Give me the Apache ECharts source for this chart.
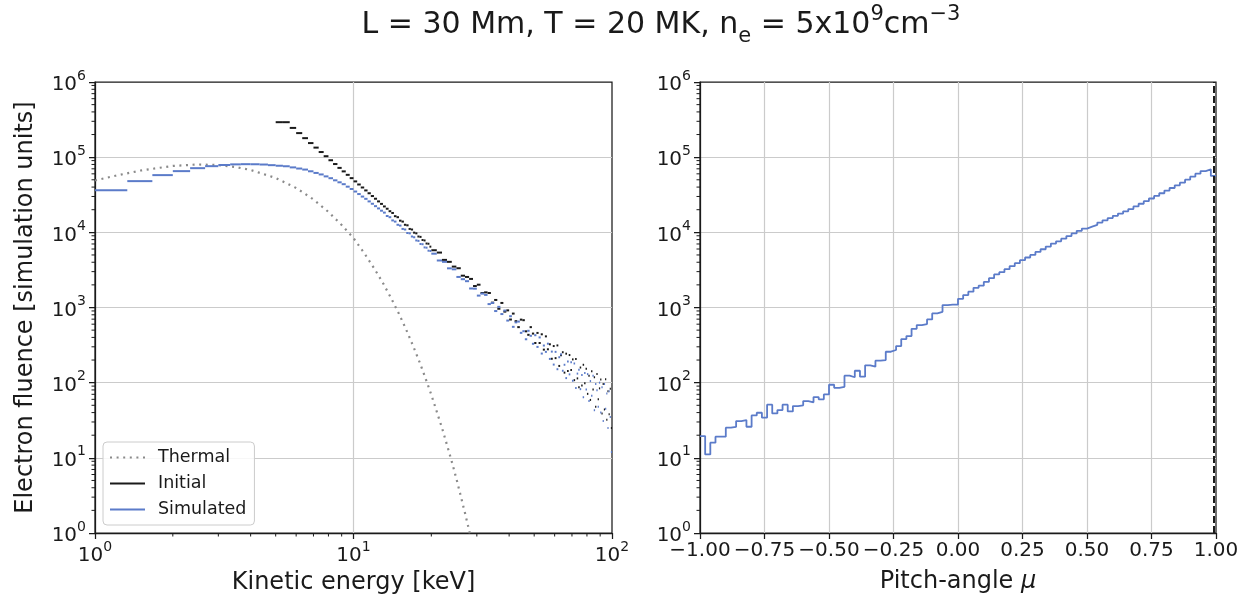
<!DOCTYPE html>
<html><head><meta charset="utf-8">
<script src="https://cdn.jsdelivr.net/npm/echarts@6/dist/echarts.min.js"></script>
<style>html,body{margin:0;padding:0;background:#fff}#c{width:1251px;height:602px}</style>
</head><body><div id="c"></div>
<script>
// ---------------- data ----------------
const thermalE = [1, 1.2, 1.5, 2, 2.5, 3, 3.5, 4, 5, 6, 7, 8, 9, 10, 11, 12, 13, 14, 15, 16, 17, 18, 19, 20, 21, 22, 23, 24, 25, 26, 27, 28, 29];
const thermalF = [49000, 56600, 66400, 76500, 80000, 78600, 74000, 67600, 52900, 38900, 27400, 18700, 12500, 8400, 5300, 3350, 2120, 1320, 820, 505, 309, 189, 114, 69, 41, 25, 14.8, 8.9, 5.3, 3.1, 1.84, 1.09, 0.64];

// energy histograms: fine bins (1/3 keV) then coarse bins (1 keV) from 20 keV
const fineBinWidth = 1 / 3;
const coarseStartE = 20;
const coarseBinWidth = 1;

const initialStartE = 5;
const initialFine = [292000, 292000, 245000, 209000, 179000, 154000, 134000, 117000, 103000, 91000, 81000, 72000, 64700, 58200, 52600,
  47600, 43300, 39500, 36100, 33100, 30400, 28000, 25800, 23900, 22100, 20600, 19100, 18100, 16400, 15900,
  14300, 13900, 12600, 12400, 11100, 10900, 9900, 9700, 8800, 8700, 7900, 7800, 7100, 7050, 6450];
const initialCoarse = [5780, 5380, 4300, 4050, 3500, 3330, 2650, 2550, 2400, 1930,
  2010, 1560, 1590, 1560, 1160, 1260, 962, 1150, 881, 916,
  692, 830, 658, 548, 690, 678, 482, 433, 548, 450,
  337, 459, 337, 440, 275, 413, 278, 324, 208, 307,
  212, 313, 167, 231, 254, 136, 243, 143, 233, 147,
  204, 108, 206, 114, 87, 159, 92, 173, 98, 153,
  71, 124, 59, 142, 81, 118, 48, 130, 60, 84,
  110, 39, 96, 44, 111, 32, 77, 38, 83, 25];

const simulatedStartE = 1;
const simulatedFine = [36400, 48000, 57700, 65200, 71400, 75900, 78600, 80200, 80700, 80500,
  79800, 78300, 76900, 75700, 73100, 70600, 68400, 64900, 61700, 58900,
  55500, 52500, 49200, 46300, 43700, 40500, 37700, 34900, 32300, 29900,
  27900, 25800, 24000, 22300, 20800, 19400, 18300, 16500, 15900, 14400,
  13900, 12600, 12300, 11100, 10900, 9800, 9700, 8800, 8600, 7800,
  7700, 7000, 6950, 6300, 6250, 5700, 5650];
const simulatedCoarse = [5200, 4220, 4050, 3320, 3220, 2550, 2380, 2240, 1790, 1780,
  1440, 1530, 1470, 1110, 1150, 897, 1020, 818, 910, 670,
  766, 553, 634, 650, 460, 484, 378, 490, 420, 329,
  428, 299, 400, 244, 312, 257, 330, 207, 259, 174,
  257, 151, 218, 239, 144, 173, 115, 191, 129, 187,
  106, 180, 85, 132, 149, 82, 126, 64, 134, 81,
  130, 57, 105, 67, 124, 43, 96, 79, 48, 100,
  40, 87, 31, 96, 45, 72, 25, 77, 35, 12];

// pitch-angle histogram, 100 bins of 0.02 from -1 to 1
const muStart = -1;
const muBinWidth = 0.02;
const pitchCounts = [19.5, 11.1, 15.9, 19.1, 19.1, 25.2, 25.9, 30.8, 31.8, 25.9,
  36.7, 39.8, 34.2, 50.9, 39.0, 43.2, 50.9, 41.5, 48.8, 49.9,
  56.9, 54.7, 64.4, 60.0, 69.8, 93.8, 85.5, 88.1, 124, 118,
  144, 120, 170, 163, 196, 200, 258, 272, 307, 380,
  417, 521, 583, 602, 695, 834, 877, 1077, 1090, 1090,
  1306, 1462, 1622, 1828, 1950, 2188, 2455, 2754, 2951, 3236,
  3548, 3890, 4266, 4624, 5012, 5495, 5957, 6457, 7079, 7586,
  8222, 8913, 9661, 10471, 11220, 11885, 12589, 13490, 14454, 15488,
  16596, 17783, 19055, 20417, 22131, 23988, 26002, 28184, 30549, 33113,
  35892, 38905, 42170, 45709, 50119, 54954, 60256, 65313, 68865, 56234];
const cutoffMu = 0.993;

const legendNames = ['Thermal', 'Initial', 'Simulated'];
const titleText = 'L = 30 Mm, T = 20 MK, n{sub|e} = 5x10{sup|9}cm{sup|−3}';

// ---------------- styling ----------------
const FONT = 'DejaVu Sans';
const INK = '#1a1a1a';
const BLUE = '#5b7bc9';
const GRAY = '#8a8a8a';
const GRID = '#cbcbcb';

function bins(startE, width, vals) {
  return vals.map((v, i) => [startE + i * width, startE + (i + 1) * width, v]);
}
function histBins(fineStart, fine, coarse) {
  return bins(fineStart, fineBinWidth, fine).concat(bins(coarseStartE, coarseBinWidth, coarse));
}
const initialBins = histBins(initialStartE, initialFine, initialCoarse);
const simulatedBins = histBins(simulatedStartE, simulatedFine, simulatedCoarse);
const thermalData = thermalE.map((e, i) => [e, thermalF[i]]);
const pitchData = pitchCounts.map((v, i) => [muStart + i * muBinWidth, v]);
pitchData.push([muStart + pitchCounts.length * muBinWidth, pitchCounts[pitchCounts.length - 1]]);

// log-axis minor tick positions (2..9 x 10^k) — axis decoration
function logMinors(lo, hi) {
  const out = [];
  for (let k = lo; k < hi; k++) for (let m = 2; m <= 9; m++) out.push(m * Math.pow(10, k));
  return out;
}
const yMinorL = logMinors(0, 6).map(v => [1, v]);
const yMinorR = logMinors(0, 6).map(v => [-1, v]);
const xMinorL = logMinors(0, 2).map(v => [v, 1]);

function segRender(color, width) {
  return function (params, api) {
    const a = api.coord([api.value(0), api.value(2)]);
    const b = api.coord([api.value(1), api.value(2)]);
    return { type: 'line', silent: true,
      shape: { x1: a[0], y1: a[1], x2: b[0], y2: b[1] },
      style: { stroke: color, lineWidth: width, lineCap: 'butt' } };
  };
}
function minorRender(dir) {
  return function (params, api) {
    const p = api.coord([api.value(0), api.value(1)]);
    const L = 3.5;
    const shape = dir === 'y'
      ? { x1: p[0] - L, y1: p[1], x2: p[0], y2: p[1] }
      : { x1: p[0], y1: p[1], x2: p[0], y2: p[1] + L };
    return { type: 'line', silent: true, shape, style: { stroke: INK, lineWidth: 1 } };
  };
}

const powRich = {
  b: { fontSize: 20, fontFamily: FONT, color: INK, lineHeight: 26, verticalAlign: 'bottom' },
  s: { fontSize: 14, fontFamily: FONT, color: INK, lineHeight: 14, verticalAlign: 'top' }
};
function powFmt(v) { return '{b|10}{s|' + Math.round(Math.log10(v)) + '}'; }

const tickStyle = { show: true, length: 6, lineStyle: { color: INK, width: 1.25 } };
const splitStyle = { show: true, showMinLine: false, showMaxLine: false, lineStyle: { color: GRID, width: 1.2 } };
const lineAx = { show: true, onZero: false, lineStyle: { color: INK, width: 1.25 } };
const nameStyle = { fontSize: 24, fontFamily: FONT, color: INK };

function logY(idx, named) {
  const ax = { type: 'log', logBase: 10, gridIndex: idx, min: 1, max: 1e6,
    axisLine: lineAx, axisTick: tickStyle, splitLine: splitStyle,
    axisLabel: { margin: 9, formatter: powFmt, rich: powRich } };
  if (named) {
    ax.name = 'Electron fluence [simulation units]';
    ax.nameLocation = 'middle';
    ax.nameGap = 57;
    ax.nameTextStyle = nameStyle;
  }
  return ax;
}

const DOTS = 'path://M0,0h2v2h-2zM6.6,0h2v2h-2zM13.2,0h2v2h-2zM19.8,0h2v2h-2zM26.4,0h2v2h-2zM33,0h2v2h-2z';

const option = {
  animation: false,
  backgroundColor: '#ffffff',
  textStyle: { fontFamily: FONT, color: INK },
  graphic: [{
    type: 'text', x: 661, y: 10, silent: true,
    style: {
      text: titleText, fontSize: 30, fontFamily: FONT, fill: INK, align: 'center', verticalAlign: 'top',
      rich: {
        sub: { fontSize: 21, fontFamily: FONT, fill: INK, verticalAlign: 'bottom', lineHeight: 21, padding: [0, 0, -7, 0] },
        sup: { fontSize: 21, fontFamily: FONT, fill: INK, verticalAlign: 'top', lineHeight: 21, padding: [-6, 0, 0, 0] }
      }
    }
  }],
  grid: [
    { left: 95, top: 82, width: 517, height: 451, show: true, borderColor: INK, borderWidth: 1.25, backgroundColor: 'transparent', outerBoundsMode: 'none', containLabel: false },
    { left: 700, top: 82, width: 516, height: 451, show: true, borderColor: INK, borderWidth: 1.25, backgroundColor: 'transparent', outerBoundsMode: 'none', containLabel: false }
  ],
  xAxis: [
    { type: 'log', logBase: 10, gridIndex: 0, min: 1, max: 100,
      axisLine: lineAx, axisTick: tickStyle, splitLine: splitStyle,
      axisLabel: { margin: 7, formatter: powFmt, rich: powRich },
      name: 'Kinetic energy [keV]', nameLocation: 'middle', nameGap: 37,
      nameTextStyle: nameStyle },
    { type: 'value', gridIndex: 1, min: -1, max: 1, interval: 0.25,
      axisLine: lineAx, axisTick: tickStyle, splitLine: splitStyle,
      axisLabel: { margin: 8, fontSize: 20, color: INK, fontFamily: FONT,
        formatter: v => v.toFixed(2).replace('-', '−') },
      name: 'Pitch-angle {i|μ}', nameLocation: 'middle', nameGap: 37,
      nameTextStyle: Object.assign({}, nameStyle,
        { rich: { i: { fontSize: 24, fontFamily: FONT, fontStyle: 'italic', color: INK } } }) }
  ],
  yAxis: [logY(0, true), logY(1, false)],
  legend: {
    data: [
      { name: legendNames[0], icon: DOTS },
      { name: legendNames[1], icon: 'rect' },
      { name: legendNames[2], icon: 'rect' }
    ],
    left: 103, top: 442, orient: 'vertical',
    itemWidth: 35, itemHeight: 2.2, itemGap: 7, padding: [6, 8, 6, 7],
    borderColor: '#cccccc', borderWidth: 1, borderRadius: 4, backgroundColor: 'rgba(255,255,255,0.85)',
    textStyle: { fontSize: 17.5, fontFamily: FONT, color: INK, lineHeight: 19, padding: [0, 0, 0, 8] },
    selectedMode: false
  },
  series: [
    { name: 'Thermal', type: 'line', xAxisIndex: 0, yAxisIndex: 0, data: thermalData,
      symbol: 'none', smooth: false, clip: true, z: 3,
      lineStyle: { color: GRAY, width: 2.2, type: [2, 4.6], cap: 'butt' }, itemStyle: { color: GRAY } },
    { name: 'Initial', type: 'line', xAxisIndex: 0, yAxisIndex: 0, data: [], symbol: 'none',
      lineStyle: { color: INK, width: 2 }, itemStyle: { color: INK } },
    { name: 'Simulated', type: 'line', xAxisIndex: 0, yAxisIndex: 0, data: [], symbol: 'none',
      lineStyle: { color: BLUE, width: 2 }, itemStyle: { color: BLUE } },
    { name: 'initialBins', type: 'custom', xAxisIndex: 0, yAxisIndex: 0, data: initialBins,
      encode: { x: [0, 1], y: 2 }, renderItem: segRender(INK, 2), silent: true, z: 4 },
    { name: 'simulatedBins', type: 'custom', xAxisIndex: 0, yAxisIndex: 0, data: simulatedBins,
      encode: { x: [0, 1], y: 2 }, renderItem: segRender(BLUE, 2), silent: true, z: 5 },
    { name: 'pitch', type: 'line', xAxisIndex: 1, yAxisIndex: 1, data: pitchData, step: 'end',
      symbol: 'none', silent: true, lineStyle: { color: BLUE, width: 1.8 },
      markLine: { silent: true, symbol: 'none', label: { show: false },
        lineStyle: { color: INK, width: 2, type: [7, 3] },
        data: [{ xAxis: cutoffMu }] } },
    { name: 'minorYL', type: 'custom', xAxisIndex: 0, yAxisIndex: 0, data: yMinorL, clip: false,
      encode: { x: 0, y: 1 }, renderItem: minorRender('y'), silent: true },
    { name: 'minorXL', type: 'custom', xAxisIndex: 0, yAxisIndex: 0, data: xMinorL, clip: false,
      encode: { x: 0, y: 1 }, renderItem: minorRender('x'), silent: true },
    { name: 'minorYR', type: 'custom', xAxisIndex: 1, yAxisIndex: 1, data: yMinorR, clip: false,
      encode: { x: 0, y: 1 }, renderItem: minorRender('y'), silent: true }
  ]
};

const chart = echarts.init(document.getElementById('c'), null, { renderer: 'canvas' });
chart.setOption(option);
</script></body></html>
